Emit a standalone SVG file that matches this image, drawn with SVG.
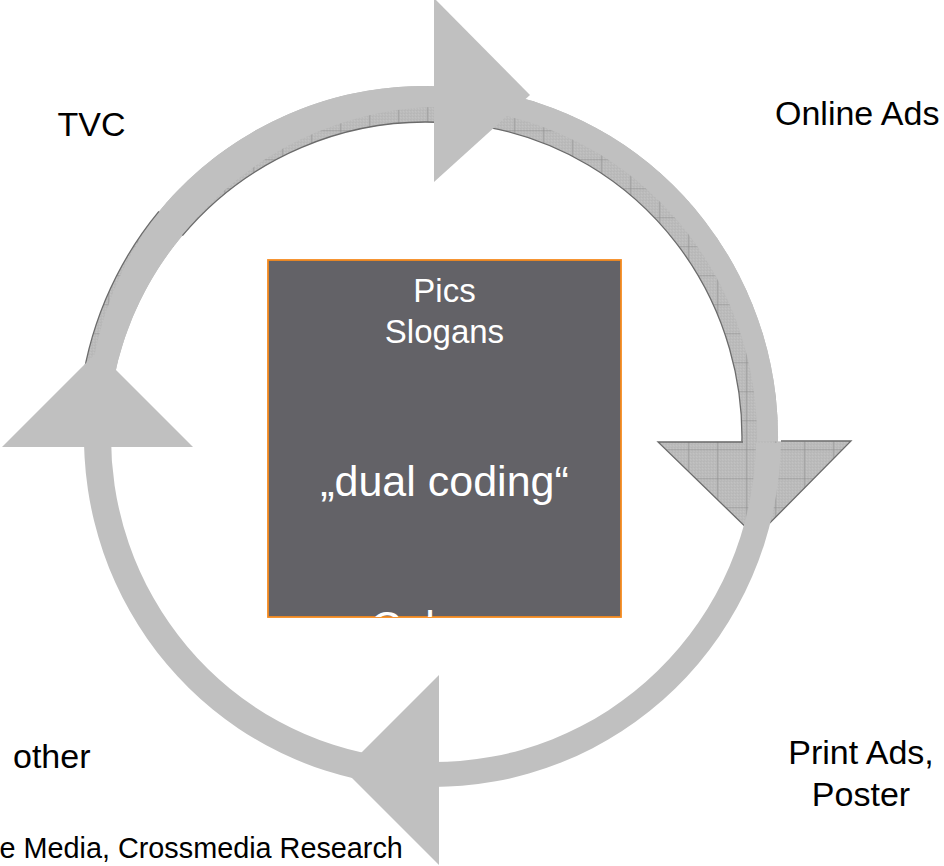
<svg xmlns="http://www.w3.org/2000/svg" width="944" height="866" viewBox="0 0 944 866">
<style>
.plain{fill:#c0c0c0}
.tex{fill:url(#tex)}
.edge{fill:none;stroke:#6b6b6b;stroke-width:1.3}
.lbl{font-family:"Liberation Sans",Arial,sans-serif;font-size:34px;fill:#000}
.in{font-family:"Liberation Sans",Arial,sans-serif;fill:#fff;text-anchor:middle}
</style>
<defs>
<pattern id="grain" patternUnits="userSpaceOnUse" width="3" height="3">
<rect width="3" height="3" fill="#bcbcbc"/>
<rect x="0" y="0" width="1" height="1" fill="#b0b0b0"/>
<rect x="2" y="1" width="1" height="1" fill="#c8c8c8"/>
<rect x="1" y="2" width="1" height="1" fill="#b4b4b4"/>
</pattern>
<pattern id="tex" patternUnits="userSpaceOnUse" x="21.3" y="14.3" width="29" height="29">
<rect width="29" height="29" fill="url(#grain)"/>
<path d="M0 0.4H29M0.4 0V29" stroke="#8e8e8e" stroke-width="0.7"/>
</pattern>
<clipPath id="boxclip"><rect x="268" y="260" width="353" height="357"/></clipPath>
</defs>
<rect width="944" height="866" fill="#fff"/>
<g id="connectors">
<path class="plain" d="M 387.8,784.4 A 346 350 0 0 1 84.2,424.8 L 111.2,425.7 A 319 323 0 0 0 391.1,757.6 Z"/>
<g id="arc-top-left">
<path class="tex" d="M 79.9,400.3 A 346 351 0 0 1 448.1,86.9 L 448.2,122.8 A 318 318 0 0 0 109.7,406.8 Z"/>
<path class="plain" d="M 88.8,401.3 A 340 345 0 0 1 158.9,211.4 A 346 351 0 0 1 448.1,86.9 L 446.7,106.8 A 330 335 0 0 0 182.4,235.6 A 318 318 0 0 0 109.7,406.8 Z"/>
<path class="edge" d="M 79.9,400.3 A 346 351 0 0 1 158.9,211.4"/>
<path class="edge" d="M 182.4,235.6 A 318 318 0 0 1 448.2,122.8"/>
</g>
<g id="arc-top-right">
<path class="tex" d="M 492.1,91.3 A 346 351 0 0 1 777.2,461.5 L 741.2,459.0 A 310 315 0 0 0 485.8,126.8 Z"/>
<path class="plain" d="M 492.1,91.3 A 346 351 0 0 1 777.2,461.5 L 756.2,460.0 A 325 330 0 0 0 488.4,112.0 Z"/>
<path class="edge" d="M 485.8,126.8 A 310 315 0 0 1 741.2,459.0"/>
</g>
<polygon class="plain" points="2,447 97.5,351.5 193,447"/>
<polygon class="plain" points="434,-2 530,95 434,182"/>
<g id="head-right">
<polygon class="tex" points="658,442 851,441 756,537"/>
<path class="edge" stroke-width="1.6" d="M 743,442 L 658,442 L 756,537 L 851,441 L 781,441"/>
</g>
<path class="plain" d="M 780.9,443.1 A 347 350 0 0 1 427.9,786.9 L 428.4,762.0 A 322 325 0 0 0 756.0,442.7 Z"/>
<polygon class="plain" points="439,675 344,770 439,865"/>
</g>
<g id="node-center">
<rect x="268" y="260" width="353" height="357" fill="#636267" stroke="#f68b1f" stroke-width="1.8"/>
<text class="in" x="444.5" y="302" font-size="33">Pics</text>
<text class="in" x="444.5" y="343" font-size="33">Slogans</text>
<text class="in" x="444.5" y="496" font-size="43">„dual coding“</text>
<g clip-path="url(#boxclip)"><text class="in" x="444.5" y="641" font-size="43">Colours</text></g>
</g>
<g id="node-tvc"><text class="lbl" x="57.5" y="136">TVC</text></g>
<g id="node-online"><text class="lbl" x="775" y="125">Online Ads</text></g>
<g id="node-print"><text class="lbl" text-anchor="middle" x="861" y="764">Print Ads,</text><text class="lbl" text-anchor="middle" x="861" y="806">Poster</text></g>
<g id="node-other"><text class="lbl" x="13" y="768">other</text></g>
<g id="footer"><text class="lbl" x="-0.5" y="858" style="font-size:28.8px">e Media, Crossmedia Research</text></g>
</svg>
